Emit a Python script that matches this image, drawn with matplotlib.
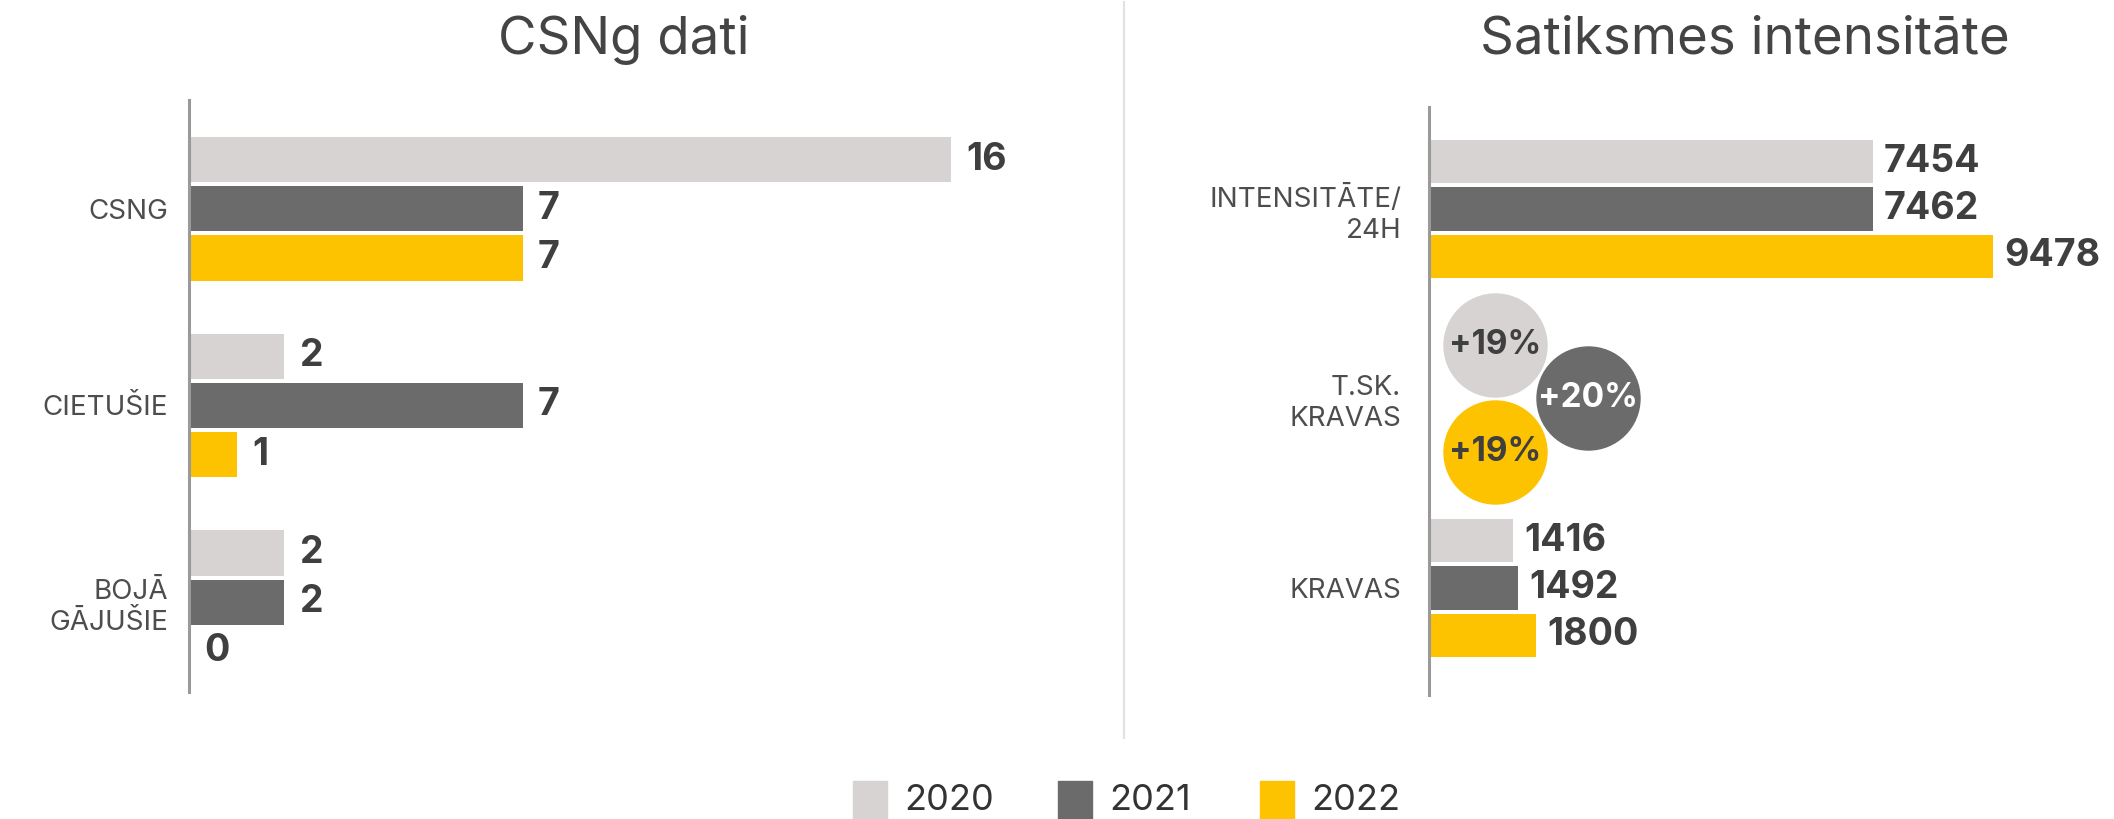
import matplotlib.pyplot as plt
from matplotlib.patches import Rectangle
from matplotlib.lines import Line2D

plt.rcParams['font.family'] = ['Inter', 'DejaVu Sans']

# data
years = ['2020', '2021', '2022']
colors = ['#d6d3d2', '#6b6b6b', '#fdc300']

csng_cats = ['CSNG', 'CIETUŠIE', 'BOJĀ\nGĀJUŠIE']
csng_2020 = [16, 2, 2]
csng_2021 = [7, 7, 2]
csng_2022 = [7, 1, 0]

traffic_cats = ['INTENSITĀTE/\n24H', 'T.SK.\nKRAVAS', 'KRAVAS']
intensity = [7454, 7462, 9478]   # per year 2020..2022
trucks = [1416, 1492, 1800]

W, H = 2114, 819
fig = plt.figure(figsize=(W / 100, H / 100), dpi=100)

label_col = '#4d4d4d'
value_col = '#3f3f3f'


def px_axes(left, top, right, bottom):
    return fig.add_axes([left / W, 1 - bottom / H, (right - left) / W, (bottom - top) / H])


def style(ax):
    for s in ['top', 'right', 'bottom']:
        ax.spines[s].set_visible(False)
    ax.spines['left'].set_color('#9a9a9a')
    ax.spines['left'].set_linewidth(2.2)
    ax.set_xticks([])
    ax.tick_params(axis='y', length=0, labelsize=20, labelcolor=label_col)


step = 0.25
bh = 0.23

# ---- left panel: CSNg dati
ax1 = px_axes(189, 100, 1000, 692)
style(ax1)
series = [csng_2020, csng_2021, csng_2022]
for j, vals in enumerate(series):
    ys = [i + (j - 1) * step for i in range(len(vals))]
    ax1.barh(ys, vals, height=bh, color=colors[j])
    for y, v in zip(ys, vals):
        ax1.annotate(str(v), (v, y), xytext=(11, 0), textcoords='offset points',
                     va='center', ha='left', fontsize=27, fontweight='bold', color=value_col)
ax1.set_xlim(0, 811 / 47.65)
ax1.set_ylim(2.457, -0.553)
ax1.set_yticks(range(3))
ax1.set_yticklabels(csng_cats, linespacing=1.25)
ax1.tick_params(axis='y', pad=15)

# ---- right panel: Satiksmes intensitāte
ax2 = px_axes(1429, 107, 2050, 695)
style(ax2)
for j in range(3):
    ys = [0 + (j - 1) * step, 2 + (j - 1) * step]
    vals = [intensity[j], trucks[j]]
    ax2.barh(ys, vals, height=bh, color=colors[j])
    for y, v in zip(ys, vals):
        ax2.annotate(str(v), (v, y), xytext=(8, 0), textcoords='offset points',
                     va='center', ha='left', fontsize=27, fontweight='bold', color=value_col)

# share of trucks as bubbles
bx = [1110, 2670, 1110]
for j in range(3):
    y = 1 + (j - 1) * 0.28
    ax2.scatter(bx[j], y, s=5500, color=colors[j], zorder=3, clip_on=False)
    share = round(100 * trucks[j] / intensity[j])
    ax2.text(bx[j], y, f'+{share}%', ha='center', va='center', fontsize=24,
             fontweight='bold', color='white' if j == 1 else value_col, zorder=4)

ax2.set_xlim(0, 621 / 0.0595)
ax2.set_ylim(2.565, -0.538)
ax2.set_yticks(range(3))
ax2.set_yticklabels(traffic_cats, linespacing=1.25)
ax2.tick_params(axis='y', pad=20)

# titles
fig.text(624 / W, 1 - 40 / H, 'CSNg dati', ha='center', va='center', fontsize=38, color='#444444')
fig.text(1745 / W, 1 - 40 / H, 'Satiksmes intensitāte', ha='center', va='center',
         fontsize=38, color='#444444')

# divider
fig.add_artist(Line2D([1124 / W] * 2, [1 - 2 / H, 1 - 738 / H], color='#e2e2e2', lw=1.5))

# legend
lx = [853, 1058, 1260]
for j, yr in enumerate(years):
    fig.add_artist(Rectangle((lx[j] / W, 0), 34 / W, 38 / H, transform=fig.transFigure,
                             color=colors[j]))
    fig.text((lx[j] + 51) / W, 1 - 800 / H, yr, ha='left', va='center', fontsize=26,
             color='#333333')

fig.savefig('out.png', dpi=100)
